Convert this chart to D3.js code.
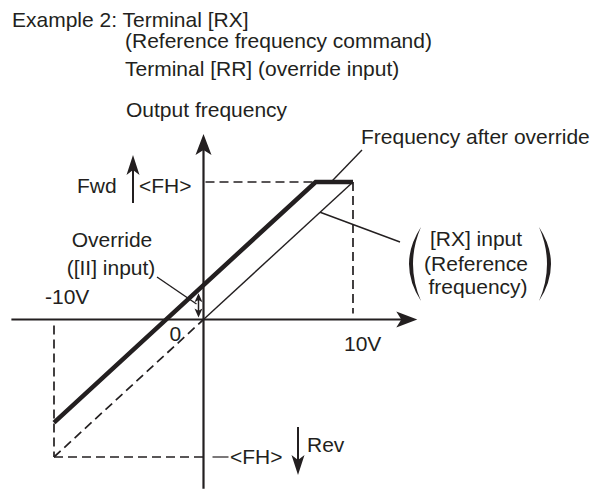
<!DOCTYPE html>
<html>
<head>
<meta charset="utf-8">
<script src="https://cdn.jsdelivr.net/npm/d3@7"></script>
<style>
  html, body { margin: 0; padding: 0; background: #fff; }
  svg text { font-family: "Liberation Sans", Arial, Helvetica, sans-serif; fill: #231f20; }
</style>
</head>
<body>
<div id="viz-container"></div>
<script>
// ── Data ─────────────────────────────────────────────────────
// voltage in V, frequency as a fraction of <FH>
const TITLE_LINES = [
  'Example 2: Terminal [RX]',
  '(Reference frequency command)',
  'Terminal [RR] (override input)',
];
const VOLT_TICKS   = [-10, 0, 10];
const VOLT_LABELS  = ['-10V', '0', '10V'];
const FH_LEVELS    = [1, -1];
const OVERRIDE_BIAS = 0.25;

// [RX] input (reference frequency): dashed below 0, thin solid above
const REF_LOWER = [{ v: -10, f: -1 }, { v: 0, f: 0 }];
const REF_UPPER = [{ v: 0, f: 0 }, { v: 10, f: 1 }];
// frequency after override, clamped at <FH>
const AFTER_OVERRIDE = [{ v: -10, f: -0.75 }, { v: 7.5, f: 1 }, { v: 10, f: 1 }];

const AXIS_X_RANGE = [-12.85, 14.3];
const AXIS_Y_RANGE = [-1.23, 1.35];

const INK = '#231f20';
const FONT_SIZE = 21;

// ── Render ────────────────────────────────────────────────────
const width = 601, height = 490;
const svg = d3.select('#viz-container').append('svg')
  .attr('width', width).attr('height', height);

const x = d3.scaleLinear().domain([-10, 10]).range([54, 353]);
const y = d3.scaleLinear().domain([-1, 1]).range([457, 182]);
const x0 = x(0), y0 = y(0);

function arrowHead(g, tx, ty, dir, len = 20, hw = 7.5) {
  // dir: 'up' | 'down' | 'right'
  let pts;
  const notch = Math.min(5, len / 4);
  if (dir === 'up')    pts = [[tx, ty], [tx - hw, ty + len], [tx, ty + len - notch], [tx + hw, ty + len]];
  if (dir === 'down')  pts = [[tx, ty], [tx - hw, ty - len], [tx, ty - len + notch], [tx + hw, ty - len]];
  if (dir === 'right') pts = [[tx, ty], [tx - len, ty - hw], [tx - len + notch, ty], [tx - len, ty + hw]];
  g.append('path').attr('d', 'M' + pts.join('L') + 'Z').attr('fill', INK);
}

function text(str, tx, ty, anchor = 'start') {
  return svg.append('text').attr('x', tx).attr('y', ty)
    .attr('font-size', FONT_SIZE).attr('text-anchor', anchor).text(str);
}

// ── Title ─────────────────────────────────────────────────────
text(TITLE_LINES[0], 12, 27);
text(TITLE_LINES[1], 125, 48);
text(TITLE_LINES[2], 125, 76);
text('Output frequency', 126, 117);

// ── Guide (dashed) lines ──────────────────────────────────────
const guides = svg.append('g')
  .attr('stroke', INK).attr('stroke-width', 1.7)
  .attr('stroke-dasharray', '9,5').attr('fill', 'none');

guides.append('line').attr('x1', x0 + 2).attr('x2', x(10))
  .attr('y1', y(FH_LEVELS[0])).attr('y2', y(FH_LEVELS[0]));
guides.append('line').attr('x1', x(10)).attr('x2', x(10))
  .attr('y1', y(FH_LEVELS[0])).attr('y2', y0 - 6);
guides.append('line').attr('x1', x(-10)).attr('x2', x0)
  .attr('y1', y(FH_LEVELS[1])).attr('y2', y(FH_LEVELS[1]));
guides.append('line').attr('x1', x(-10)).attr('x2', x(-10))
  .attr('y1', y0 + 6).attr('y2', y(FH_LEVELS[1]));

// ── Axes ──────────────────────────────────────────────────────
const axes = svg.append('g');
axes.append('line')
  .attr('x1', x(AXIS_X_RANGE[0])).attr('x2', x(AXIS_X_RANGE[1]) - 10)
  .attr('y1', y0).attr('y2', y0)
  .attr('stroke', INK).attr('stroke-width', 2.2);
arrowHead(axes, x(AXIS_X_RANGE[1]), y0, 'right', 21, 8);

axes.append('line')
  .attr('x1', x0).attr('x2', x0)
  .attr('y1', y(AXIS_Y_RANGE[0])).attr('y2', y(AXIS_Y_RANGE[1]) + 10)
  .attr('stroke', INK).attr('stroke-width', 2.2);
arrowHead(axes, x0, y(AXIS_Y_RANGE[1]), 'up', 21, 8);

// ── Reference line ([RX] input) ───────────────────────────────
const line = d3.line().x(d => x(d.v)).y(d => y(d.f));

svg.append('path').datum(REF_LOWER)
  .attr('d', line).attr('fill', 'none')
  .attr('stroke', INK).attr('stroke-width', 1.7).attr('stroke-dasharray', '9,5');

svg.append('path').datum(REF_UPPER)
  .attr('d', line).attr('fill', 'none')
  .attr('stroke', INK).attr('stroke-width', 1.4);

// ── Frequency after override ──────────────────────────────────
svg.append('path').datum(AFTER_OVERRIDE)
  .attr('d', line).attr('fill', 'none')
  .attr('stroke', INK).attr('stroke-width', 4.5).attr('stroke-linejoin', 'miter');

// ── Override bias double arrow ────────────────────────────────
const bx = x0 - 5;
const bTop = y(OVERRIDE_BIAS) + 8, bBot = y0 - 2;
svg.append('line').attr('x1', bx).attr('x2', bx)
  .attr('y1', bTop + 6).attr('y2', bBot - 6)
  .attr('stroke', INK).attr('stroke-width', 1.5);
arrowHead(svg, bx, bTop, 'up', 9, 4);
arrowHead(svg, bx, bBot, 'down', 9, 4);

// ── Tick labels ───────────────────────────────────────────────
text(VOLT_LABELS[0], x(VOLT_TICKS[0]) - 9, y0 - 16);
text(VOLT_LABELS[1], x(VOLT_TICKS[1]) - 34, y0 + 21);
text(VOLT_LABELS[2], x(VOLT_TICKS[2]) - 9, y0 + 31);

// ── Fwd / Rev ─────────────────────────────────────────────────
const fwdX = 133;
svg.append('line').attr('x1', fwdX).attr('x2', fwdX)
  .attr('y1', y(FH_LEVELS[0]) + 21).attr('y2', y(FH_LEVELS[0]) - 12)
  .attr('stroke', INK).attr('stroke-width', 2);
arrowHead(svg, fwdX, y(FH_LEVELS[0]) - 27, 'up', 20, 6.5);
text('Fwd', 77, y(FH_LEVELS[0]) + 11);
text('<FH>', 139, y(FH_LEVELS[0]) + 11);

const revX = 298;
svg.append('line').attr('x1', revX).attr('x2', revX)
  .attr('y1', y(FH_LEVELS[1]) - 30).attr('y2', y(FH_LEVELS[1]) + 5)
  .attr('stroke', INK).attr('stroke-width', 2);
arrowHead(svg, revX, y(FH_LEVELS[1]) + 18, 'down', 20, 6.5);
text('Rev', 307, y(FH_LEVELS[1]) - 5);
svg.append('line').attr('x1', x0 + 9).attr('x2', x0 + 25)
  .attr('y1', y(FH_LEVELS[1])).attr('y2', y(FH_LEVELS[1]))
  .attr('stroke', INK).attr('stroke-width', 1.2);
text('<FH>', 230, y(FH_LEVELS[1]) + 7);

// ── Annotations ───────────────────────────────────────────────
const leader = (x1, y1, x2, y2) => svg.append('line')
  .attr('x1', x1).attr('y1', y1).attr('x2', x2).attr('y2', y2)
  .attr('stroke', INK).attr('stroke-width', 1.4);

// Frequency after override
text('Frequency after override', 361, 144);
leader(362, 150, x(8.6), y(1) - 1);

// Override
text('Override', 112, 247, 'middle');
text('([II] input)', 111, 275, 'middle');
leader(157, 277, bx - 2, 304);

// [RX] input
leader(x(7.8), y(0.78), 400, 242);
text('[RX] input', 476, 246, 'middle');
text('(Reference', 476, 271, 'middle');
text('frequency)', 478, 294, 'middle');

// big parentheses
const pTop = 227, pBot = 301, pMid = (pTop + pBot) / 2;
svg.append('path')
  .attr('d', `M421,${pTop} Q397,${pMid} 421,${pBot} Q405,${pMid} 421,${pTop}Z`)
  .attr('fill', INK);
svg.append('path')
  .attr('d', `M539,${pTop} Q563,${pMid} 539,${pBot} Q555,${pMid} 539,${pTop}Z`)
  .attr('fill', INK);
</script>
</body>
</html>
